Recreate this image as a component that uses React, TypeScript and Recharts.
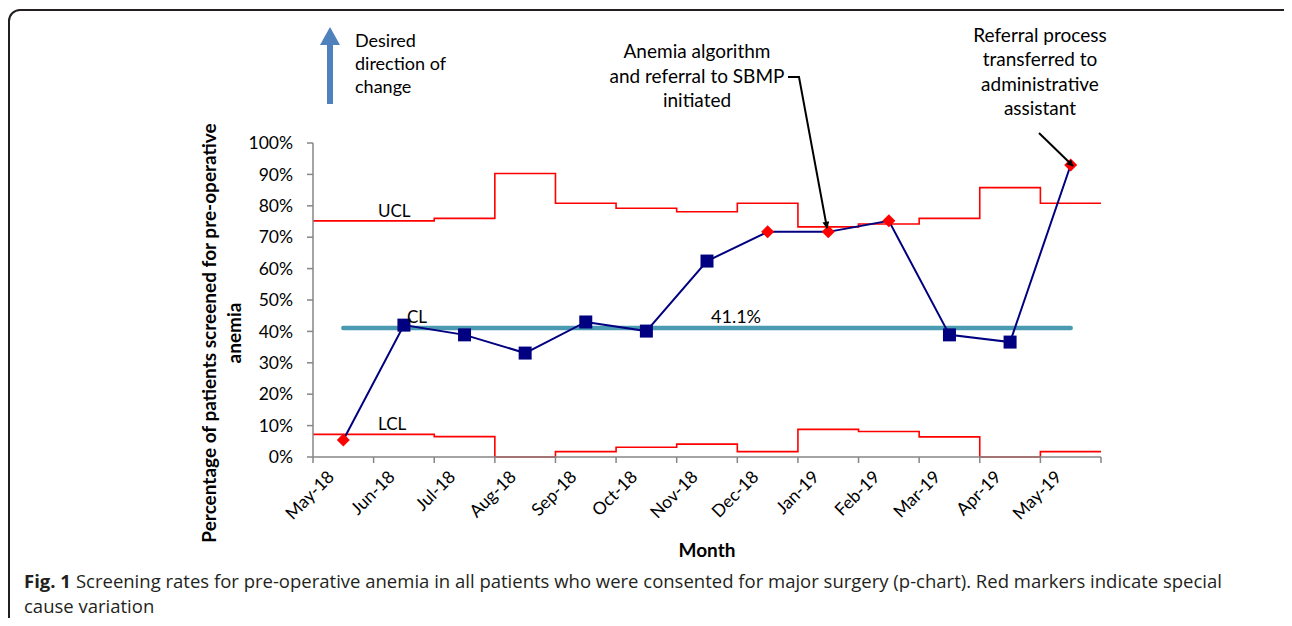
import React from "react";
import { ComposedChart, Line, XAxis, YAxis } from "recharts";

const months = ["May-18", "Jun-18", "Jul-18", "Aug-18", "Sep-18", "Oct-18", "Nov-18", "Dec-18", "Jan-19", "Feb-19", "Mar-19", "Apr-19", "May-19"];
const rate = [0.054, 0.42, 0.389, 0.331, 0.43, 0.401, 0.624, 0.717, 0.717, 0.752, 0.389, 0.366, 0.93];
const ucl = [0.752, 0.752, 0.76, 0.903, 0.808, 0.792, 0.781, 0.808, 0.733, 0.742, 0.76, 0.858, 0.808];
const lcl = [0.072, 0.072, 0.065, 0, 0.017, 0.031, 0.041, 0.017, 0.088, 0.081, 0.064, 0, 0.017];
const special = [true, false, false, false, false, false, false, true, true, true, false, false, true];
const centerLine = 0.411;
const yTicks = [0, 0.1, 0.2, 0.3, 0.4, 0.5, 0.6, 0.7, 0.8, 0.9, 1];

const pointData = months.map((m, i) => ({ x: i + 0.5, month: m, rate: rate[i], special: special[i] }));
const limitData = [
  ...ucl.map((u, i) => ({ x: i, ucl: u, lcl: lcl[i] })),
  { x: months.length, ucl: ucl[ucl.length - 1], lcl: lcl[lcl.length - 1] },
];
const clData = [
  { x: 0.5, cl: centerLine },
  { x: months.length - 0.5, cl: centerLine },
];
const xTicks = Array.from({ length: months.length + 1 }, (_, i) => i);

const W = 1292;
const H = 626;
const M = { top: 143, right: 191, bottom: 89, left: 253 };
const YW = 60;
const PLOT_W = W - M.left - YW - M.right;
const BAND = PLOT_W / months.length;
const FONT = "Lato, 'Open Sans', sans-serif";

const XTick = (props: any) => {
  const { x, y, payload } = props;
  const i = payload.value;
  if (i >= months.length) return <g />;
  const ax = x + BAND / 2 - 8;
  const ay = y + 13;
  return (
    <text x={ax} y={ay} textAnchor="end" transform={`rotate(-45 ${ax} ${ay})`} fontSize={17.5} fontFamily={FONT} fill="#000">
      {months[i]}
    </text>
  );
};

const Dot = (props: any) => {
  const { cx, cy, payload, index } = props;
  if (cx == null || cy == null) return <g key={`d${index}`} />;
  if (payload.special) {
    const r = 6.5;
    return (
      <polygon
        key={`d${index}`}
        points={`${cx},${cy - r} ${cx + r},${cy} ${cx},${cy + r} ${cx - r},${cy}`}
        fill="#ff0000"
      />
    );
  }
  const s = 13;
  return <rect key={`d${index}`} x={cx - s / 2} y={cy - s / 2} width={s} height={s} fill="#000080" />;
};

const captionStyle: React.CSSProperties = {
  position: "absolute",
  left: 24,
  whiteSpace: "nowrap",
  fontFamily: "'Open Sans', sans-serif",
  fontSize: 18.5,
  lineHeight: "25px",
  color: "#231f20",
};

export default function App() {
  return (
    <div style={{ position: "relative", width: W, height: H, margin: -8, overflow: "hidden", background: "#fff" }}>
      <div style={{ position: "absolute", left: 0, top: 0 }}>
        <ComposedChart width={W} height={H} margin={M}>
          <XAxis
            xAxisId={0}
            type="number"
            dataKey="x"
            domain={[0, months.length]}
            ticks={xTicks}
            interval={0}
            allowDataOverflow
            axisLine={{ stroke: "#868686", strokeWidth: 1.5 }}
            tickLine={{ stroke: "#868686", strokeWidth: 1.5 }}
            tickSize={6}
            height={80}
            tick={<XTick />}
          />
          <YAxis
            type="number"
            domain={[0, 1]}
            ticks={yTicks}
            interval={0}
            width={YW}
            axisLine={{ stroke: "#868686", strokeWidth: 1.5 }}
            tickLine={{ stroke: "#868686", strokeWidth: 1.5 }}
            tickSize={6}
            tickMargin={14}
            tick={{ fontSize: 17.5, fontFamily: FONT, fill: "#000" }}
            tickFormatter={(v: number) => `${Math.round(v * 100)}%`}
          />
          <Line data={limitData} dataKey="ucl" type="stepAfter" stroke="#ff0000" strokeWidth={1.6} dot={false} activeDot={false} isAnimationActive={false} />
          <Line data={limitData} dataKey="lcl" type="stepAfter" stroke="#ff0000" strokeWidth={1.6} dot={false} activeDot={false} isAnimationActive={false} />
          <Line data={clData} dataKey="cl" type="linear" stroke="#4a9bb2" strokeWidth={4.5} strokeLinecap="round" dot={false} activeDot={false} isAnimationActive={false} />
          <Line data={pointData} dataKey="rate" type="linear" stroke="#000080" strokeWidth={2} dot={<Dot />} activeDot={false} isAnimationActive={false} />
        </ComposedChart>
      </div>
      <svg width={W} height={H} style={{ position: "absolute", left: 0, top: 0, pointerEvents: "none" }} fontFamily={FONT}>
        <defs>
          <marker id="ah" viewBox="0 0 10 10" refX="9" refY="5" markerWidth="7" markerHeight="7" orient="auto-start-reverse" markerUnits="userSpaceOnUse">
            <path d="M0,0 L10,5 L0,10 z" fill="#000" />
          </marker>
        </defs>
        <rect x={9} y={10} width={1286} height={700} rx={11} fill="none" stroke="#231f20" strokeWidth={2} />
        {/* desired direction arrow */}
        <rect x={327} y={44} width={6} height={60} fill="#4f81bd" />
        <polygon points="320,45 340,45 330,27" fill="#4f81bd" />
        <text x={355} y={47} fontSize={18} fill="#000">Desired</text>
        <text x={355} y={70} fontSize={18} fill="#000">direction of</text>
        <text x={355} y={93} fontSize={18} fill="#000">change</text>
        {/* annotation 1 */}
        <text x={697} y={58} fontSize={19} textAnchor="middle" fill="#000">Anemia algorithm</text>
        <text x={697} y={83} fontSize={19} textAnchor="middle" fill="#000">and referral to SBMP</text>
        <text x={697} y={107} fontSize={19} textAnchor="middle" fill="#000">initiated</text>
        <polyline points="788,77 799,77 827,228" fill="none" stroke="#000" strokeWidth={2} markerEnd="url(#ah)" />
        {/* annotation 2 */}
        <text x={1040} y={42} fontSize={19} textAnchor="middle" fill="#000">Referral process</text>
        <text x={1040} y={66} fontSize={19} textAnchor="middle" fill="#000">transferred to</text>
        <text x={1040} y={91} fontSize={19} textAnchor="middle" fill="#000">administrative</text>
        <text x={1040} y={115} fontSize={19} textAnchor="middle" fill="#000">assistant</text>
        <line x1={1039} y1={133} x2={1073} y2={166} stroke="#000" strokeWidth={2} markerEnd="url(#ah)" />
        {/* limit labels */}
        <text x={378} y={217} fontSize={17} fill="#000">UCL</text>
        <text x={407} y={323} fontSize={17} fill="#000">CL</text>
        <text x={378} y={430} fontSize={17} fill="#000">LCL</text>
        <text x={711} y={323} fontSize={18} fill="#000">41.1%</text>
        {/* axis titles */}
        <text x={0} y={0} fontSize={19} fontWeight="bold" textAnchor="middle" transform="translate(216 333) rotate(-90)" fill="#000">
          Percentage of patients screened for pre-operative
        </text>
        <text x={0} y={0} fontSize={19} fontWeight="bold" textAnchor="middle" transform="translate(241 333) rotate(-90)" fill="#000">
          anemia
        </text>
        <text x={707} y={557} fontSize={19} fontWeight="bold" textAnchor="middle" fill="#000">Month</text>
      </svg>
      <div style={{ ...captionStyle, top: 568 }}>
        <span style={{ fontWeight: 700, marginRight: 5 }}>Fig. 1</span>
        <span>Screening rates for pre-operative anemia in all patients who were consented for major surgery (p-chart). Red markers indicate special</span>
      </div>
      <div style={{ ...captionStyle, top: 593 }}>cause variation</div>
    </div>
  );
}
